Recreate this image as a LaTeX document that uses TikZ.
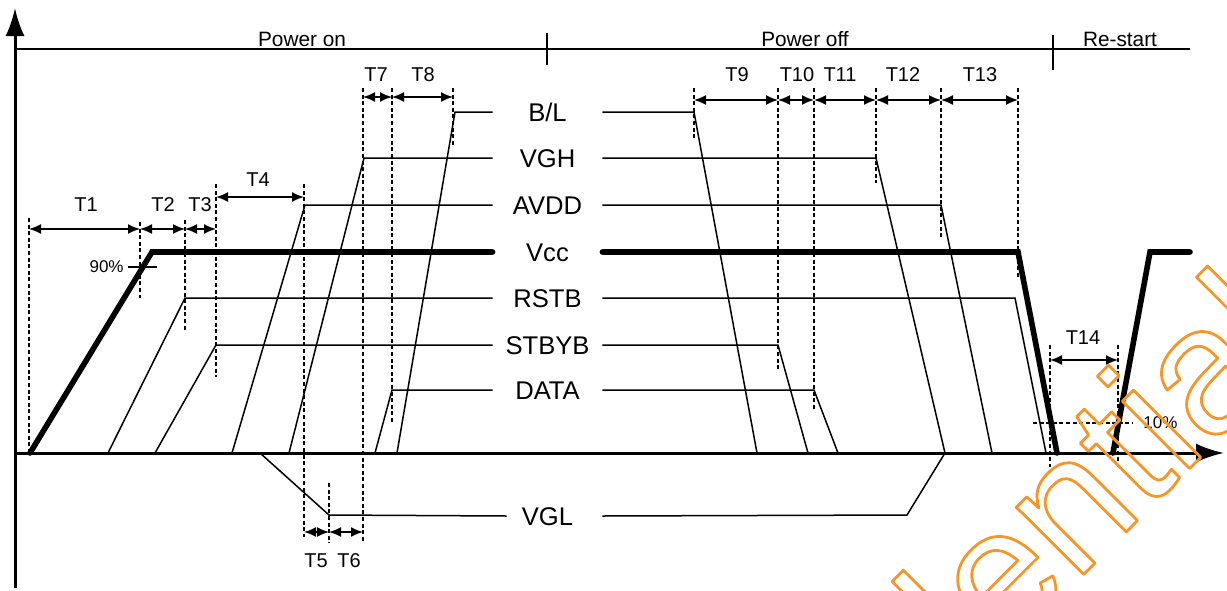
\documentclass[tikz,border=0pt]{standalone}
\usepackage{fontspec}
\setmainfont{Liberation Sans}
\usetikzlibrary{arrows.meta}
\definecolor{wmorange}{RGB}{247,150,40}
\tikzset{sig/.style={line width=0.75pt},
  vccln/.style={line width=2.8pt, line cap=round},
  axisln/.style={line width=1.5pt, -{Latex[length=14pt,width=9.5pt]}},
  dimarr/.style={line width=0.8pt, {Latex[length=6pt,width=5pt]}-{Latex[length=6pt,width=5pt]}},
  vguide/.style={line width=0.7pt, dash pattern=on 2pt off 1.3pt},
  siglbl/.style={font=\fontsize{12.8}{14}\selectfont, minimum width=54.5pt, inner sep=0pt, text height=9pt, text depth=0pt},
  tlbl/.style={font=\fontsize{10}{12}\selectfont, inner sep=0pt},
  phaselbl/.style={font=\fontsize{10.4}{12}\selectfont, inner sep=0pt},
  pctlbl/.style={font=\fontsize{8.5}{10}\selectfont, inner sep=0pt}}

\begin{document}
\begin{tikzpicture}[x=0.5pt, y=-0.5pt]
  \useasboundingbox (0,0) rectangle (1227,590);
  % axes and phases
  \draw[axisln] (15,588) -- (15,8);
  \draw[axisln] (15,453) -- (1224,453);
  \draw[sig] (15,49) -- (1190,49);
  \draw[sig] (547,33) -- (547,65);
  \draw[sig] (1053,35) -- (1053,70);
  \node[phaselbl] (pon)  at (302,39)  {Power on};
  \node[phaselbl] (poff) at (805,39)  {Power off};
  \node[phaselbl] (rst)  at (1120,39) {Re-start};
  % signal names
  \node[siglbl] (bl)    at (547.5,112) {B/L};
  \node[siglbl] (vgh)   at (547.5,158) {VGH};
  \node[siglbl] (avdd)  at (547.5,205) {AVDD};
  \node[siglbl] (vcc)   at (547.5,252) {Vcc};
  \node[siglbl] (rstb)  at (547.5,298) {RSTB};
  \node[siglbl] (stbyb) at (547.5,345) {STBYB};
  \node[siglbl] (data)  at (547.5,390) {DATA};
  \node[siglbl] (vgl)   at (547.5,516) {VGL};
  % waveforms
  \draw[sig] (397,453) -- (455,112) -- (bl.west);
  \draw[sig] (bl.east) -- (694,112) -- (757,453);
  \draw[sig] (289,453) -- (364,158) -- (vgh.west);
  \draw[sig] (vgh.east) -- (876,158) -- (945,453);
  \draw[sig] (232,453) -- (305,205) -- (avdd.west);
  \draw[sig] (avdd.east) -- (941,205) -- (992,453);
  \draw[sig] (108,453) -- (185,298) -- (rstb.west);
  \draw[sig] (rstb.east) -- (1015,298) -- (1046,453);
  \draw[sig] (155,453) -- (216,345) -- (stbyb.west);
  \draw[sig] (stbyb.east) -- (778,345) -- (808,453);
  \draw[sig] (375,453) -- (392,390) -- (data.west);
  \draw[sig] (data.east) -- (814,390) -- (838,453);
  \draw[sig] (260,453) -- (329,515) -- ([xshift=7pt]vgl.west);
  \draw[sig] (vgl.east) -- (907,515) -- (945,453);
  \draw[vccln] (30,453) -- (152,252) -- (vcc.west);
  \draw[vccln] (vcc.east) -- (1018,252) -- (1057,453);
  \draw[vccln] (1113,453) -- (1150,252) -- (1190,252);
  % levels
  \draw[sig] (128,267) -- (157,267);
  \node[pctlbl, anchor=east] (p90) at (124,267) {90\%};
  \draw[vguide] (1033,423) -- (1133,423);
  \node[pctlbl, anchor=west] (p10) at (1143,423) {10\%};
  % timing marks
  \foreach \x/\ya/\yb in {29/218/453, 140/222/298, 185/220/332, 216/184/377, 304/184/537,
      329/483/543, 363/88/543, 392/88/423, 453/88/147, 694/88/138, 778/88/370, 814/88/410,
      876/88/183, 941/88/237, 1018/88/277, 1050/345/467, 1118/345/467}
    \draw[vguide] (\x,\ya) -- (\x,\yb);
  \foreach \a/\b/\y/\t/\lx/\ly in {29/140/229/T1/86/205, 140/185/229/T2/163/205,
      185/216/229/T3/200/205, 216/304/197/T4/258/180, 304/329/532/T5/316/561,
      329/363/532/T6/349/561, 363/392/97/T7/376/75, 392/453/97/T8/423/75,
      694/778/100/T9/737/75, 778/814/100/T10/797/75, 814/876/100/T11/840/75,
      876/941/100/T12/903/75, 941/1018/100/T13/980/75, 1050/1118/360/T14/1083/338}{
    \draw[dimarr] (\a,\y) -- (\b,\y);
    \node[tlbl] (lbl\t) at (\lx,\ly) {\t};
  }
  % watermark (outlined text)
  \node[anchor=base west, inner sep=0pt, rotate=45, text=wmorange, font=\fontsize{90}{100}\selectfont] (wmark) at (636,1022)
    {\special{pdf:literal direct 1 Tr 1 j 1.4 w}Confidential\special{pdf:literal direct 0 Tr}};
\end{tikzpicture}
\end{document}
